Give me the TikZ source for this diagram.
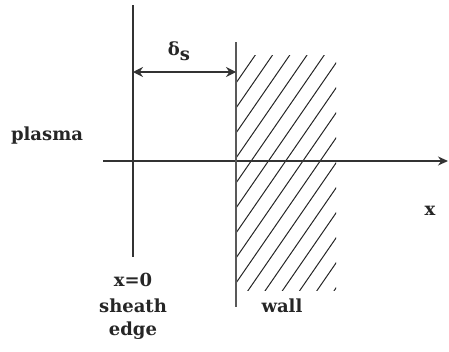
\documentclass[tikz,border=0pt]{standalone}
\usepackage{fontspec}
\setmainfont{DejaVu Serif}
\usetikzlibrary{arrows.meta}
\begin{document}
\begin{tikzpicture}[x=1pt,y=-1pt,
  lbl/.style={font=\bfseries\fontsize{18}{21}\selectfont, inner sep=0pt, text=black!85},
  axis/.style={draw=black!80, line width=1.3pt},
  hatch/.style={draw=black!85, line width=1pt}]
\useasboundingbox (0,0) rectangle (449,351);
% coordinates
\coordinate (edgeTop) at (133,5);
\coordinate (edgeBot) at (133,257);
\coordinate (wallTop) at (236,42);
\coordinate (wallBot) at (236,307);
\coordinate (axL) at (103,161);
\coordinate (axR) at (448,161);
\coordinate (dL) at (133,72);
\coordinate (dR) at (236,72);
% hatching
\begin{scope}
\clip (236,55) rectangle (336,290);
\foreach \c in {0,25,...,500} {
  \draw[hatch] (236,83+\c) -- ++(120,-174);
}
\end{scope}
% lines
\draw[axis] (edgeTop) -- (edgeBot);
\draw[axis, -{Stealth[length=10pt,width=9pt]}] (axL) -- (axR);
\draw[draw=black!65, line width=2.4pt] (wallTop) -- (wallBot);
\draw[axis, {Stealth[length=10pt,width=10pt]}-{Stealth[length=10pt,width=10pt]}] (dL) -- (dR);
% labels
\node[lbl] (ds) at (179,51) {δ\raisebox{-0.5ex}{s}};
\node[lbl] (plasma) at (47,136) {plasma};
\node[lbl] (xl) at (430,211) {x};
\node[lbl] (x0) at (133,280) {x=0};
\node[lbl] (sheath) at (133,306) {sheath};
\node[lbl] (edge) at (133,331) {edge};
\node[lbl] (wall) at (282,306) {wall};
\end{tikzpicture}
\end{document}
